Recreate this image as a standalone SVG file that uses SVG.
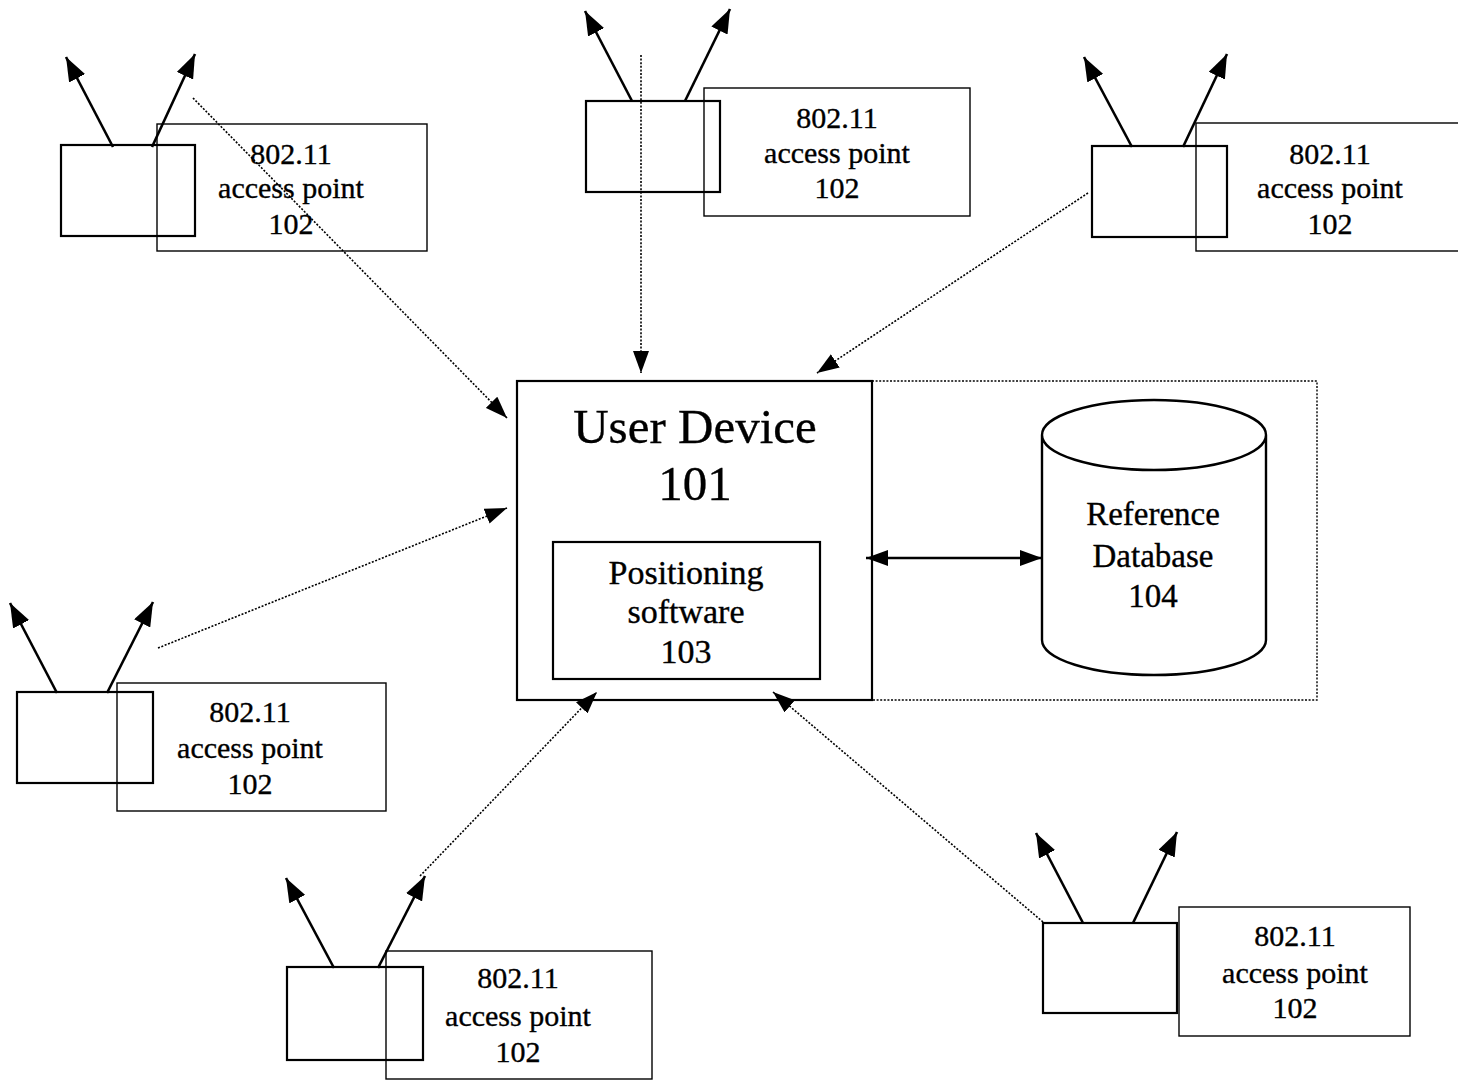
<svg xmlns="http://www.w3.org/2000/svg" width="1458" height="1081" viewBox="0 0 1458 1081">
<style>
  .bg{fill:#fff}
  .dev{fill:none;stroke:#000;stroke-width:2.2}
  .lbl{fill:none;stroke:#000;stroke-width:1.4}
  .ant{stroke:#000;stroke-width:2.6;fill:none;marker-end:url(#ah)}
  .con{stroke:#000;stroke-width:1.6;fill:none;stroke-dasharray:2 1.6;marker-end:url(#ch)}
  .dotbox{fill:none;stroke:#000;stroke-width:1.4;stroke-dasharray:2 1.6}
  text{font-family:"Liberation Serif","Times New Roman",serif;fill:#000;stroke:#000;stroke-width:0.35;text-anchor:middle}
  .t30{font-size:30px}
  .t49{font-size:49px}
  .t34{font-size:34px}
  .t33{font-size:33px}
</style>
<defs>
  <marker id="ah" markerUnits="userSpaceOnUse" markerWidth="24" markerHeight="18" viewBox="0 0 24 18" refX="24" refY="9" orient="auto">
    <path d="M0,0 L24,9 L0,18 z" fill="#000"/>
  </marker>
  <marker id="ch" markerUnits="userSpaceOnUse" markerWidth="22" markerHeight="16" viewBox="0 0 22 16" refX="22" refY="8" orient="auto">
    <path d="M0,0 L22,8 L0,16 z" fill="#000"/>
  </marker>
  <marker id="dh" markerUnits="userSpaceOnUse" markerWidth="22" markerHeight="16" viewBox="0 0 22 16" refX="22" refY="8" orient="auto-start-reverse">
    <path d="M0,0 L22,8 L0,16 z" fill="#000"/>
  </marker>
</defs>
<rect class="bg" x="0" y="0" width="1458" height="1081"/>

<g id="connectors">
  <line class="con" x1="193" y1="98" x2="507" y2="418"/>
  <line class="con" x1="641" y1="55" x2="641" y2="373"/>
  <line class="con" x1="1088" y1="193" x2="817" y2="373"/>
  <line class="con" x1="158" y1="648" x2="507" y2="508"/>
  <line class="con" x1="420" y1="876" x2="597" y2="692"/>
  <line class="con" x1="1043" y1="922" x2="773" y2="692"/>
  <line x1="866" y1="558" x2="1042" y2="558" stroke="#000" stroke-width="2.6" marker-start="url(#dh)" marker-end="url(#dh)"/>
</g>

<g id="ap-top-left">
  <rect class="dev" x="61" y="145" width="134" height="91"/>
  <rect class="lbl" x="157" y="124" width="270" height="127"/>
  <line class="ant" x1="113" y1="147" x2="66" y2="57"/>
  <line class="ant" x1="152" y1="147" x2="195" y2="54"/>
  <text class="t30" x="291" y="164">802.11</text>
  <text class="t30" x="291" y="198">access point</text>
  <text class="t30" x="291" y="234">102</text>
</g>

<g id="ap-top-center">
  <rect class="dev" x="586" y="101" width="134" height="91"/>
  <rect class="lbl" x="704" y="88" width="266" height="128"/>
  <line class="ant" x1="632" y1="101" x2="585" y2="11"/>
  <line class="ant" x1="685" y1="101" x2="730" y2="9"/>
  <text class="t30" x="837" y="128">802.11</text>
  <text class="t30" x="837" y="163">access point</text>
  <text class="t30" x="837" y="198">102</text>
</g>

<g id="ap-top-right">
  <rect class="dev" x="1092" y="146" width="135" height="91"/>
  <rect class="lbl" x="1196" y="123" width="270" height="128"/>
  <line class="ant" x1="1132" y1="147" x2="1084" y2="57"/>
  <line class="ant" x1="1183" y1="147" x2="1227" y2="54"/>
  <text class="t30" x="1330" y="164">802.11</text>
  <text class="t30" x="1330" y="198">access point</text>
  <text class="t30" x="1330" y="234">102</text>
</g>

<g id="ap-left">
  <rect class="dev" x="17" y="692" width="136" height="91"/>
  <rect class="lbl" x="117" y="683" width="269" height="128"/>
  <line class="ant" x1="57" y1="693" x2="10" y2="603"/>
  <line class="ant" x1="107" y1="693" x2="153" y2="602"/>
  <text class="t30" x="250" y="722">802.11</text>
  <text class="t30" x="250" y="758">access point</text>
  <text class="t30" x="250" y="794">102</text>
</g>

<g id="ap-bottom-left">
  <rect class="dev" x="287" y="967" width="136" height="93"/>
  <rect class="lbl" x="386" y="951" width="266" height="128"/>
  <line class="ant" x1="334" y1="968" x2="286" y2="878"/>
  <line class="ant" x1="378" y1="968" x2="425" y2="876"/>
  <text class="t30" x="518" y="988">802.11</text>
  <text class="t30" x="518" y="1026">access point</text>
  <text class="t30" x="518" y="1062">102</text>
</g>

<g id="ap-bottom-right">
  <rect class="dev" x="1043" y="923" width="134" height="90"/>
  <rect class="lbl" x="1179" y="907" width="231" height="129"/>
  <line class="ant" x1="1083" y1="923" x2="1036" y2="833"/>
  <line class="ant" x1="1133" y1="923" x2="1177" y2="832"/>
  <text class="t30" x="1295" y="946">802.11</text>
  <text class="t30" x="1295" y="983">access point</text>
  <text class="t30" x="1295" y="1018">102</text>
</g>

<g id="server-group">
  <rect class="dotbox" x="872" y="381" width="445" height="319"/>
</g>

<g id="user-device-101">
  <rect class="dev" x="517" y="381" width="355" height="319"/>
  <text class="t49" x="695" y="443">User Device</text>
  <text class="t49" x="695" y="500">101</text>
</g>

<g id="positioning-software-103">
  <rect class="dev" x="553" y="542" width="267" height="137"/>
  <text class="t34" x="686" y="584">Positioning</text>
  <text class="t34" x="686" y="623">software</text>
  <text class="t34" x="686" y="663">103</text>
</g>

<g id="reference-database-104">
  <path d="M1042,435 L1042,640 A112,35 0 0 0 1266,640 L1266,435 A112,35 0 0 0 1042,435 A112,35 0 0 0 1266,435" fill="#fff" stroke="#000" stroke-width="2.4"/>
  <text class="t33" x="1153" y="525">Reference</text>
  <text class="t33" x="1153" y="567">Database</text>
  <text class="t33" x="1153" y="607">104</text>
</g>
</svg>
